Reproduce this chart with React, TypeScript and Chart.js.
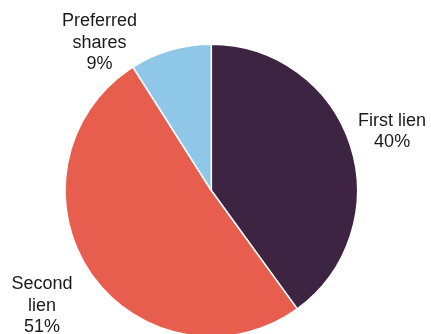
import React, { useEffect, useRef } from "react";
import { Chart, registerables } from "chart.js";

Chart.register(...registerables);

const categories: string[][] = [["First lien"], ["Second", "lien"], ["Preferred", "shares"]];
const shares: number[] = [40, 51, 9];
const colors: string[] = ["#3C2442", "#E85E4E", "#8FC7E8"];
// label placement: radial factor and extra offset (px)
const labelRadius: number[] = [1.3, 1.4, 1.27];
const labelOffset: number[][] = [[0, 0], [0, 0], [-60, 30.5]];

const labelPlugin = {
  id: "outsideLabels",
  afterDraw(chart: any) {
    const ctx = chart.ctx;
    const meta = chart.getDatasetMeta(0);
    ctx.save();
    ctx.font = '18px "Liberation Sans", Arial, sans-serif';
    ctx.fillStyle = "#1a1a1a";
    ctx.textAlign = "center";
    ctx.textBaseline = "middle";
    meta.data.forEach((arc: any, i: number) => {
      const { x, y, startAngle, endAngle, outerRadius } = arc.getProps(
        ["x", "y", "startAngle", "endAngle", "outerRadius"],
        true
      );
      const mid = (startAngle + endAngle) / 2;
      const r = outerRadius * labelRadius[i];
      const cx = x + Math.cos(mid) * r + labelOffset[i][0];
      const cy = y + Math.sin(mid) * r + labelOffset[i][1];
      const lines = [...categories[i], `${shares[i]}%`];
      const lh = 21.5;
      const top = cy - ((lines.length - 1) * lh) / 2;
      lines.forEach((t, k) => ctx.fillText(t, cx, top + k * lh));
    });
    ctx.restore();
  },
};

export default function App() {
  const ref = useRef<HTMLCanvasElement>(null);
  useEffect(() => {
    document.body.style.margin = "0";
    const chart = new Chart(ref.current!, {
      type: "pie",
      data: {
        labels: categories.map((c) => c.join(" ")),
        datasets: [
          {
            data: shares,
            backgroundColor: colors,
            borderColor: "#ffffff",
            borderWidth: 1.5,
          },
        ],
      },
      options: {
        responsive: false,
        animation: false,
        layout: { padding: { top: 43.5, bottom: 12.5, left: 0, right: 8.4 } },
        plugins: {
          legend: { display: false },
          tooltip: { enabled: false },
        },
      },
      plugins: [labelPlugin],
    });
    return () => chart.destroy();
  }, []);
  return <canvas ref={ref} width={431} height={350} style={{ display: "block" }} />;
}
